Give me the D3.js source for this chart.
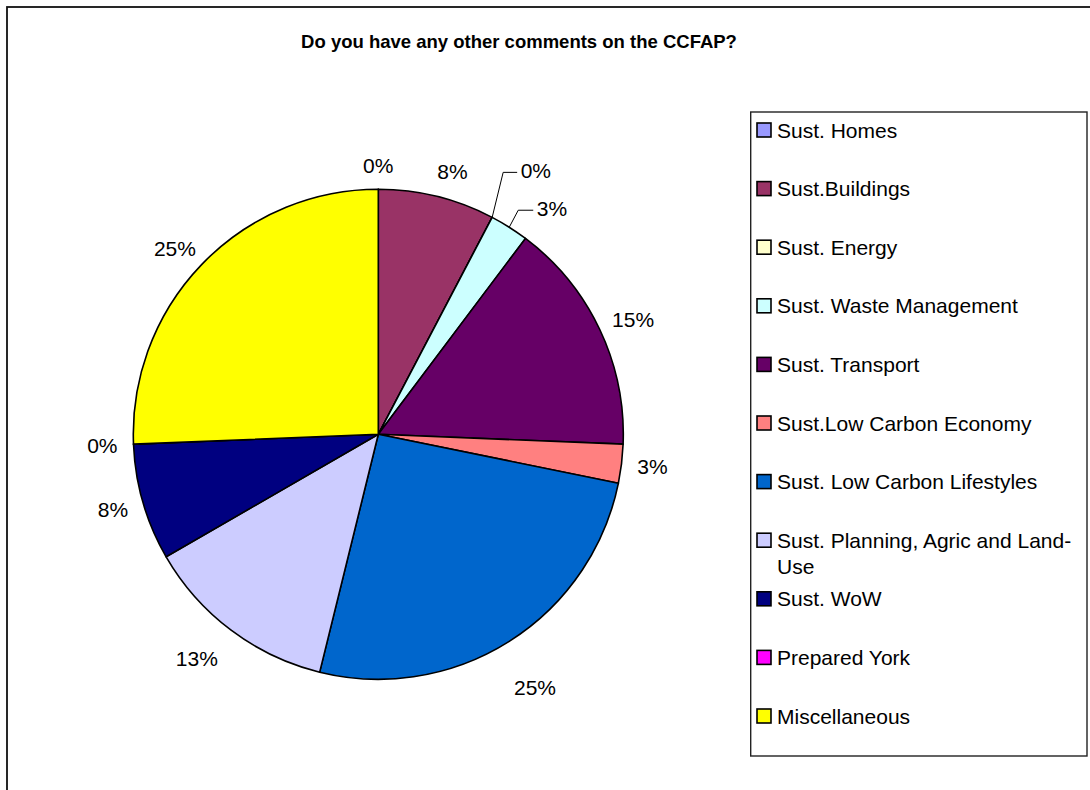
<!DOCTYPE html>
<html>
<head>
<meta charset="utf-8">
<script src="https://cdn.jsdelivr.net/npm/d3@7"></script>
<style>
  html, body { margin: 0; padding: 0; background: #fff; }
  svg { display: block; font-family: Arial, "Liberation Sans", sans-serif; }
</style>
</head>
<body>
<svg id="chart" width="1090" height="790"></svg>
<script>
// ---- data ----
const title = "Do you have any other comments on the CCFAP?";
const categories = [
  "Sust. Homes", "Sust.Buildings", "Sust. Energy", "Sust. Waste Management",
  "Sust. Transport", "Sust.Low Carbon Economy", "Sust. Low Carbon Lifestyles",
  "Sust. Planning, Agric and Land-Use", "Sust. WoW", "Prepared York", "Miscellaneous"
];
const responses = [0, 3, 0, 1, 6, 1, 10, 5, 3, 0, 10];
const percentLabels = ["0%", "8%", "0%", "3%", "15%", "3%", "25%", "13%", "8%", "0%", "25%"];
const sliceColors = [
  "#9999FF", "#993366", "#FFFFCC", "#CCFFFF", "#660066", "#FF8080",
  "#0066CC", "#CCCCFF", "#000080", "#FF00FF", "#FFFF00"
];

// ---- layout (styling / placement) ----
const layout = {
  cx: 378.3, cy: 434.3, r: 245,
  labelOffset: 16, labelCap: 15, fontSize: 21,
  legend: { x: 750.7, y: 112, w: 336.3, h: 644, firstRow: 130, rowStep: 58.6,
            markerX: 757, marker: 14, textX: 777, lineH: 26, maxW: 305 }
};
// labels dragged away from the pie, with leader lines (elbow offset from rim point)
const leaderNudges = {
  "Sust. Energy": { ex: 11, ey: -45, run: 14 },
  "Sust. Waste Management": { ex: 9, ey: -17, run: 15 }
};
// small manual label shifts
const labelShift = {
  "Sust.Buildings": { dx: 8, dy: -2 },
  "Sust. Low Carbon Lifestyles": { dx: 6, dy: 26 },
  "Sust. Planning, Agric and Land-Use": { dx: -12, dy: 10 }
};

const svg = d3.select("#chart");

// outer chart border
svg.append("rect")
  .attr("x", 7).attr("y", 7).attr("width", 1110).attr("height", 810)
  .attr("fill", "#fff").attr("stroke", "#111").attr("stroke-width", 1.8);

// title
svg.append("text")
  .attr("x", 519).attr("y", 48.3)
  .attr("text-anchor", "middle")
  .attr("font-weight", "bold")
  .attr("font-size", 18.5)
  .attr("fill", "#000")
  .text(title);

// pie
const data = categories.map((c, i) => ({ name: c, value: responses[i], label: percentLabels[i], color: sliceColors[i] }));
const pie = d3.pie().sort(null).value(d => d.value);
const arcs = pie(data);
const arc = d3.arc().innerRadius(0).outerRadius(layout.r);

const g = svg.append("g").attr("transform", `translate(${layout.cx},${layout.cy})`);
g.selectAll("path.slice")
  .data(arcs)
  .join("path")
  .attr("class", "slice")
  .attr("d", arc)
  .attr("fill", d => d.data.color)
  .attr("stroke", "#000")
  .attr("stroke-width", 1.6)
  .attr("stroke-linejoin", "round");

// labels
const labG = svg.append("g");
arcs.forEach(a => {
  const mid = (a.startAngle + a.endAngle) / 2;
  const dx = Math.sin(mid), dy = -Math.cos(mid);
  const nudge = leaderNudges[a.data.name];
  const shift = labelShift[a.data.name] || { dx: 0, dy: 0 };
  const t = labG.append("text")
    .attr("font-size", layout.fontSize)
    .attr("fill", "#000")
    .text(a.data.label);
  const w = t.node().getComputedTextLength();
  if (nudge) {
    const rx = layout.cx + layout.r * dx, ry = layout.cy + layout.r * dy;
    const exx = rx + nudge.ex, eyy = ry + nudge.ey;
    labG.append("polyline")
      .attr("points", [[rx, ry], [exx, eyy], [exx + nudge.run, eyy]].map(p => p.join(",")).join(" "))
      .attr("fill", "none").attr("stroke", "#000").attr("stroke-width", 1);
    t.attr("x", exx + nudge.run + 3.5).attr("y", eyy - 2 + layout.labelCap / 2);
  } else {
    const rr = layout.r + layout.labelOffset;
    const px = layout.cx + rr * dx + dx * w / 2 + shift.dx;
    const py = layout.cy + rr * dy + dy * layout.labelCap / 2 + shift.dy;
    t.attr("x", px).attr("y", py + layout.labelCap / 2).attr("text-anchor", "middle");
  }
});

// legend
const L = layout.legend;
svg.append("rect")
  .attr("x", L.x).attr("y", L.y).attr("width", L.w).attr("height", L.h)
  .attr("fill", "#fff").attr("stroke", "#222").attr("stroke-width", 1.4);

data.forEach((d, i) => {
  const rowY = L.firstRow + i * L.rowStep;
  svg.append("rect")
    .attr("x", L.markerX).attr("y", rowY - L.marker / 2)
    .attr("width", L.marker).attr("height", L.marker)
    .attr("fill", d.color).attr("stroke", "#000").attr("stroke-width", 1.6);
  const t = svg.append("text")
    .attr("x", L.textX).attr("y", rowY + 7.5)
    .attr("font-size", layout.fontSize).attr("fill", "#000");
  // wrap: tokens split at spaces and after hyphens
  const tokens = d.name.match(/[^\s-]+-?|\s+/g);
  const lines = [];
  let cur = "";
  const meas = svg.append("text").attr("font-size", layout.fontSize).attr("visibility", "hidden");
  tokens.forEach(tok => {
    const trial = cur + tok;
    meas.text(trial.trimEnd());
    if (meas.node().getComputedTextLength() > L.maxW && cur.trim() !== "") {
      lines.push(cur.trimEnd());
      cur = tok.trimStart();
    } else {
      cur = trial;
    }
  });
  meas.remove();
  lines.push(cur.trimEnd());
  lines.forEach((ln, k) => {
    t.append("tspan").attr("x", L.textX).attr("dy", k === 0 ? 0 : L.lineH).text(ln);
  });
});
</script>
</body>
</html>
